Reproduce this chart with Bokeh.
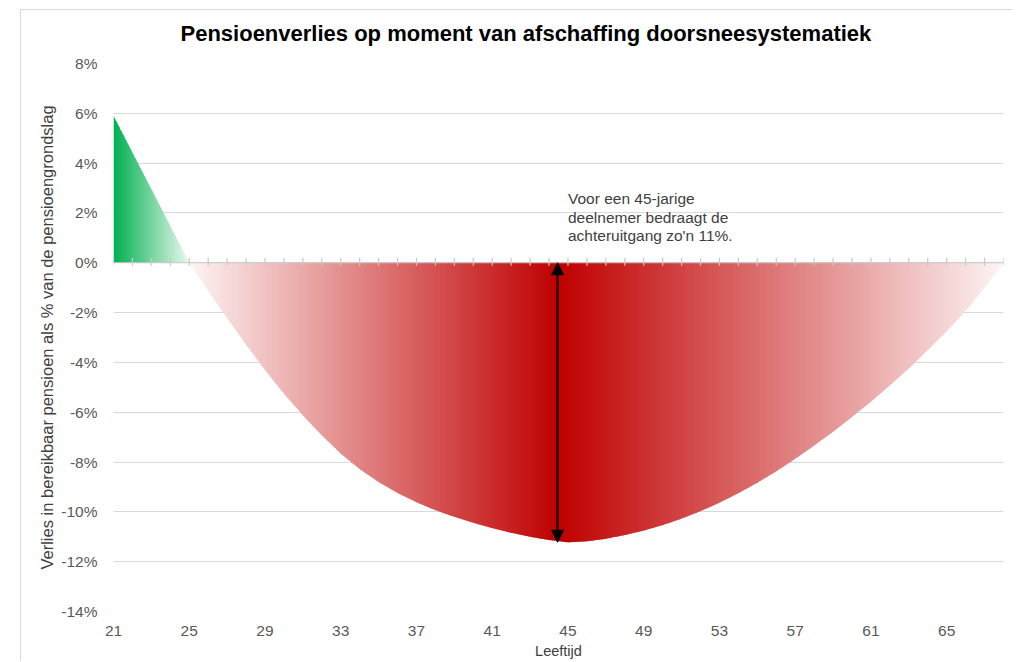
import numpy as np
from bokeh.plotting import figure
from bokeh.models import (Range1d, FixedTicker, CustomJSTickFormatter, Span, Arrow,
                          NormalHead, Label, ColumnDataSource)
from bokeh.embed import file_html
from bokeh.resources import INLINE

# ---------------- data ----------------
title_text = "Pensioenverlies op moment van afschaffing doorsneesystematiek"
x_title = "Leeftijd"
y_title = "Verlies in bereikbaar pensioen als % van de pensioengrondslag"
note_lines = ["Voor een 45-jarige", "deelnemer bedraagt de", "achteruitgang zo'n 11%."]

ages = list(range(21, 69))                      # categories on the x axis
x_tick_labels = [21, 25, 29, 33, 37, 41, 45, 49, 53, 57, 61, 65]
y_ticks = [-14, -12, -10, -8, -6, -4, -2, 0, 2, 4, 6, 8]

winst_ages = [21, 22, 23, 24, 25]               # gain (green)
winst = [5.9, 4.42, 2.95, 1.47, 0.0]

verlies_ages = list(range(25, 69))              # loss (red)
verlies = [0.0, -1.12, -2.22, -3.28, -4.3, -5.25, -6.12, -6.92, -7.66, -8.28,
           -8.8, -9.24, -9.61, -9.93, -10.2, -10.44, -10.65, -10.84, -11.0, -11.13,
           -11.22, -11.18, -11.08, -10.93, -10.75, -10.53, -10.27, -9.97, -9.63, -9.25,
           -8.83, -8.37, -7.87, -7.34, -6.78, -6.19, -5.57, -4.92, -4.24, -3.5,
           -2.75, -1.93, -1.0, 0.0]

arrow_age = 44.45

# ---------------- helpers ----------------
def grad_color(x, stops):
    for (xa, ca), (xb, cb) in zip(stops[:-1], stops[1:]):
        if xa <= x <= xb:
            t = (x - xa) / (xb - xa)
            c = [round(a + (b - a) * t) for a, b in zip(ca, cb)]
            return "#%02x%02x%02x" % tuple(c)
    return "#%02x%02x%02x" % (stops[-1][1] if x > stops[-1][0] else stops[0][1])

def gradient_slices(xv, yv, stops, n=8):
    xs, ys, cols = [], [], []
    for i in range(len(xv) - 1):
        x0, x1, y0, y1 = xv[i], xv[i + 1], yv[i], yv[i + 1]
        for k in range(n):
            fa, fb = k / n, (k + 1.6) / n if (k < n - 1 or i < len(xv) - 2) else 1.0
            a, b = x0 + (x1 - x0) * fa, x0 + (x1 - x0) * fb
            ya, yb = y0 + (y1 - y0) * fa, y0 + (y1 - y0) * fb
            xs.append([a, b, b, a])
            ys.append([0, 0, yb, ya])
            cols.append(grad_color(x0 + (x1 - x0) * (k + 0.5) / n, stops))
    return ColumnDataSource(dict(xs=xs, ys=ys, color=cols))

red_stops = [(25, (253, 244, 244)), (44.5, (192, 0, 0)), (68, (253, 244, 244))]
green_stops = [(21, (0, 176, 80)), (25, (235, 248, 240))]

# ---------------- figure ----------------
p = figure(width=1012, height=661, x_range=Range1d(21, 68), y_range=Range1d(-14, 8),
           output_backend="svg", toolbar_location=None,
           min_border_left=113, min_border_right=9, min_border_top=63, min_border_bottom=50)
# chart-area border of the original (thin grey line top and left)
p.styles = {"background": "linear-gradient(#D9D9D9, #D9D9D9) 20px 9px / calc(100% - 20px) 1px no-repeat, "
                          "linear-gradient(#D9D9D9, #D9D9D9) 20px 9px / 1px calc(100% - 9px) no-repeat, #FFFFFF"}
p.outline_line_color = None
p.background_fill_color = "white"
p.border_fill_alpha = 0

p.title.text = title_text
p.title.text_font = "Liberation Sans"
p.title.text_font_size = "22px"
p.title.text_font_style = "bold"
p.title.text_color = "#000000"
p.title.align = "left"
p.title.offset = 67
p.title.standoff = 36

# grid
p.xgrid.visible = False
p.ygrid.ticker = FixedTicker(ticks=y_ticks)
p.ygrid.grid_line_color = "#D9D9D9"
p.ygrid.grid_line_width = 1

# y axis
ya = p.yaxis[0]
ya.ticker = FixedTicker(ticks=y_ticks)
ya.formatter = CustomJSTickFormatter(code="return tick + '%';")
ya.axis_line_color = None
ya.major_tick_line_color = None
ya.minor_tick_line_color = None
ya.major_tick_out = 0
ya.major_tick_in = 0
ya.major_label_standoff = 16
ya.major_label_text_font = "Liberation Sans"
ya.major_label_text_font_size = "15.5px"
ya.major_label_text_color = "#595959"
ya.axis_label = y_title
ya.axis_label_text_font = "Liberation Sans"
ya.axis_label_text_font_size = "16.5px"
ya.axis_label_text_font_style = "normal"
ya.axis_label_text_color = "#404040"
ya.axis_label_standoff = 2

# x axis
xa = p.xaxis[0]
xa.ticker = FixedTicker(ticks=x_tick_labels)
xa.axis_line_color = None
xa.major_tick_line_color = None
xa.minor_tick_line_color = None
xa.major_tick_out = 0
xa.major_tick_in = 0
xa.major_label_standoff = 14
xa.major_label_text_font = "Liberation Sans"
xa.major_label_text_font_size = "15.5px"
xa.major_label_text_color = "#595959"
xa.axis_label = x_title
xa.axis_label_text_font = "Liberation Sans"
xa.axis_label_text_font_size = "14.5px"
xa.axis_label_text_font_style = "normal"
xa.axis_label_text_color = "#404040"
xa.axis_label_standoff = 4

# gradient areas
gsrc = gradient_slices(winst_ages, winst, green_stops)
p.patches("xs", "ys", source=gsrc, fill_color="color", line_color=None)
rsrc = gradient_slices(verlies_ages, verlies, red_stops)
p.patches("xs", "ys", source=rsrc, fill_color="color", line_color=None)

# zero axis line with category ticks
p.add_layout(Span(location=0, dimension="width", line_color="#C9C9C9", line_width=1.2))
p.segment(x0=ages, y0=[0.2] * len(ages), x1=ages, y1=[-0.12] * len(ages),
          line_color="#C9C9C9", line_width=1.2)

# arrow
p.add_layout(Arrow(x_start=arrow_age, y_start=0, x_end=arrow_age, y_end=min(verlies),
                   line_color="black", line_width=2,
                   start=NormalHead(size=12, fill_color="black", line_color="black", line_width=1),
                   end=NormalHead(size=12, fill_color="black", line_color="black", line_width=1)))

# note
note_y = [2.57, 1.83, 1.09]
for txt, yy in zip(note_lines, note_y):
    p.add_layout(Label(x=45, y=yy, text=txt, text_font="Liberation Sans",
                       text_font_size="15.5px", text_color="#404040",
                       text_baseline="alphabetic", text_align="left"))

open("out.html", "w").write(file_html(p, INLINE))
